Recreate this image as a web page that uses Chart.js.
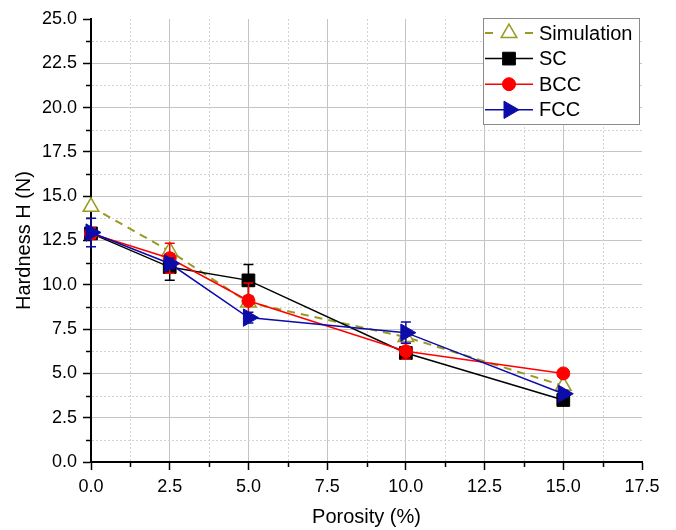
<!DOCTYPE html>
<html>
<head>
<meta charset="utf-8">
<title>Hardness vs porosity</title>
<script src="https://cdn.jsdelivr.net/npm/chart.js@4.4.1/dist/chart.umd.min.js"></script>
<style>
  html, body { margin: 0; padding: 0; background: #fff; }
  canvas { display: block; }
</style>
</head>
<body>
<canvas id="chart" width="676" height="530"></canvas>
<script>
// porosity (%) on x, hardness (N) on y
const porosity = [0, 2.5, 5, 10, 15];
const simulation = [14.4, 11.9, 9.0, 7.05, 4.3];
const sc = [12.9, 11.0, 10.25, 6.15, 3.5];
const bcc = [12.9, 11.5, 9.1, 6.25, 5.0];
const fcc = [12.95, 11.2, 8.15, 7.3, 3.85];

// +/- spread for the measured series
const scErr = [0.2, 0.75, 0.9, 0.25, 0.2];
const bccErr = [0.3, 0.85, 1.0, 0.45, 0.2];
const fccErr = [0.8, 0.3, 0.3, 0.6, 0.2];

const X_MAX = 17.5;
const Y_MAX = 25;
const STEP = 2.5;

const FONT = '"Liberation Sans", Arial, Helvetica, sans-serif';
const OLIVE = '#9a9a22';
const NAVY = '#0c0ca8';

const pts = (ys) => porosity.map((x, i) => ({ x: x, y: ys[i] }));

// dotted minor grid (half steps) plus the short minor ticks
const minorGrid = {
  id: 'minorGrid',
  beforeDatasetsDraw(chart) {
    const { ctx, chartArea: a, scales: { x, y } } = chart;
    ctx.save();
    ctx.lineWidth = 1;
    ctx.strokeStyle = '#d2d2d2';
    ctx.setLineDash([2, 2]);
    ctx.beginPath();
    for (let v = STEP / 2; v < X_MAX; v += STEP) {
      const px = Math.round(x.getPixelForValue(v)) + 0.5;
      ctx.moveTo(px, a.top);
      ctx.lineTo(px, a.bottom - 1);
    }
    for (let v = STEP / 2; v < Y_MAX; v += STEP) {
      const py = Math.round(y.getPixelForValue(v)) + 0.5;
      ctx.moveTo(a.left + 1, py);
      ctx.lineTo(a.right, py);
    }
    ctx.stroke();
    ctx.setLineDash([]);
    ctx.strokeStyle = '#000';
    ctx.lineWidth = 1.5;
    ctx.beginPath();
    for (let v = STEP / 2; v < X_MAX; v += STEP) {
      const px = Math.round(x.getPixelForValue(v)) + 0.5;
      ctx.moveTo(px, a.bottom);
      ctx.lineTo(px, a.bottom + 5);
    }
    for (let v = STEP / 2; v < Y_MAX; v += STEP) {
      const py = Math.round(y.getPixelForValue(v)) + 0.5;
      ctx.moveTo(a.left, py);
      ctx.lineTo(a.left - 5, py);
    }
    ctx.stroke();
    ctx.restore();
  }
};

// vertical error bars with caps, drawn just under each dataset's own line
const errorBars = {
  id: 'errorBars',
  beforeDatasetDraw(chart, args) {
    const ds = chart.data.datasets[args.index];
    if (!ds.errors) return;
    const { ctx, scales: { x, y } } = chart;
    ctx.save();
    ctx.strokeStyle = ds.borderColor;
    ctx.lineWidth = 1.5;
    ctx.beginPath();
    ds.data.forEach((p, i) => {
      const e = ds.errors[i];
      const px = x.getPixelForValue(p.x);
      const top = y.getPixelForValue(p.y + e);
      const bot = y.getPixelForValue(p.y - e);
      ctx.moveTo(px, top);
      ctx.lineTo(px, bot);
      ctx.moveTo(px - 5, top);
      ctx.lineTo(px + 5, top);
      ctx.moveTo(px - 5, bot);
      ctx.lineTo(px + 5, bot);
    });
    ctx.stroke();
    ctx.restore();
  }
};

function drawMarker(ctx, ds, cx, cy) {
  const r = ds.pointRadius;
  ctx.save();
  ctx.fillStyle = ds.pointBackgroundColor;
  ctx.strokeStyle = ds.pointBorderColor || ds.borderColor;
  ctx.lineWidth = ds.pointBorderWidth || 1;
  ctx.beginPath();
  if (ds.pointStyle === 'rect') {
    const s = Math.SQRT1_2 * r;
    ctx.rect(cx - s, cy - s, 2 * s, 2 * s);
  } else if (ds.pointStyle === 'circle') {
    ctx.arc(cx, cy, r, 0, Math.PI * 2);
  } else {
    let rad = (ds.pointRotation || 0) * Math.PI / 180;
    for (let k = 0; k < 3; k++) {
      const px = cx + Math.sin(rad) * r;
      const py = cy - Math.cos(rad) * r;
      if (k === 0) ctx.moveTo(px, py); else ctx.lineTo(px, py);
      rad += 2 * Math.PI / 3;
    }
    ctx.closePath();
  }
  ctx.fill();
  ctx.stroke();
  ctx.restore();
}

// boxed legend in the top right corner of the plot
const boxLegend = {
  id: 'boxLegend',
  afterDraw(chart) {
    const { ctx, chartArea: a } = chart;
    const w = 156, h = 106;
    const left = a.right - w - 3, top = a.top - 1;
    ctx.save();
    ctx.fillStyle = '#fff';
    ctx.fillRect(left, top, w, h);
    ctx.strokeStyle = '#8a8a8a';
    ctx.lineWidth = 1;
    ctx.strokeRect(left + 0.5, top + 0.5, w, h);
    ctx.font = '20px ' + FONT;
    ctx.textBaseline = 'middle';
    ctx.fillStyle = '#000';
    chart.data.datasets.forEach((ds, i) => {
      const cy = top + 15 + i * 25.6;
      const x0 = left + 2, x1 = left + 50, mid = (x0 + x1) / 2;
      ctx.strokeStyle = ds.borderColor;
      ctx.lineWidth = ds.borderWidth;
      ctx.beginPath();
      if (ds.borderDash) {
        ctx.moveTo(x0, cy); ctx.lineTo(x0 + 8, cy);
        ctx.moveTo(x1 - 8, cy); ctx.lineTo(x1, cy);
      } else {
        ctx.moveTo(x0, cy); ctx.lineTo(x1, cy);
      }
      ctx.stroke();
      drawMarker(ctx, ds, mid, cy);
      ctx.fillStyle = '#000';
      ctx.fillText(ds.label, left + 56, cy + 1);
    });
    ctx.restore();
  }
};

const axisGrid = (max) => ({
  color: (c) => (c.tick && c.tick.value === max ? 'rgba(0,0,0,0)' : '#c4c4c4'),
  lineWidth: 1,
  tickColor: '#000',
  tickLength: 8,
  tickWidth: 1.5
});

new Chart(document.getElementById('chart'), {
  type: 'line',
  data: {
    datasets: [
      {
        label: 'Simulation',
        data: pts(simulation),
        borderColor: OLIVE,
        borderWidth: 2,
        borderDash: [8, 6],
        pointStyle: 'triangle',
        pointRadius: 9,
        pointBackgroundColor: '#fff',
        pointBorderColor: OLIVE,
        pointBorderWidth: 1.5,
        order: 3
      },
      {
        label: 'SC',
        data: pts(sc),
        errors: scErr,
        borderColor: '#000',
        borderWidth: 1.5,
        pointStyle: 'rect',
        pointRadius: 9,
        pointBackgroundColor: '#000',
        pointBorderColor: '#000',
        pointBorderWidth: 1,
        order: 2
      },
      {
        label: 'BCC',
        data: pts(bcc),
        errors: bccErr,
        borderColor: '#ff0000',
        borderWidth: 1.5,
        pointStyle: 'circle',
        pointRadius: 6.5,
        pointBackgroundColor: '#ff0000',
        pointBorderColor: '#ff0000',
        pointBorderWidth: 1,
        order: 1
      },
      {
        label: 'FCC',
        data: pts(fcc),
        errors: fccErr,
        borderColor: NAVY,
        borderWidth: 1.5,
        pointStyle: 'triangle',
        pointRotation: 90,
        pointRadius: 10,
        pointBackgroundColor: NAVY,
        pointBorderColor: NAVY,
        pointBorderWidth: 1,
        order: 0
      }
    ]
  },
  options: {
    responsive: false,
    animation: false,
    clip: false,
    layout: { padding: { left: 0, right: 34, top: 19, bottom: 0 } },
    plugins: {
      legend: { display: false },
      tooltip: { enabled: false }
    },
    elements: { line: { tension: 0, fill: false } },
    scales: {
      x: {
        type: 'linear',
        min: 0,
        max: X_MAX,
        ticks: {
          stepSize: STEP,
          color: '#000',
          padding: 6,
          maxRotation: 0,
          font: { family: FONT, size: 18 },
          callback: (v) => v.toFixed(1)
        },
        grid: axisGrid(X_MAX),
        border: { display: true, color: '#000', width: 2 },
        title: {
          display: true,
          text: 'Porosity (%)',
          color: '#000',
          font: { family: FONT, size: 20 },
          padding: { top: 0, bottom: 1 }
        },
        afterFit: (s) => { s.height = 68; }
      },
      y: {
        type: 'linear',
        min: 0,
        max: Y_MAX,
        ticks: {
          stepSize: STEP,
          color: '#000',
          padding: 6,
          font: { family: FONT, size: 18 },
          callback: (v) => v.toFixed(1)
        },
        grid: axisGrid(Y_MAX),
        border: { display: true, color: '#000', width: 2 },
        title: {
          display: true,
          text: 'Hardness H (N)',
          color: '#000',
          font: { family: FONT, size: 20 },
          padding: { top: 12, bottom: 0 }
        },
        afterFit: (s) => { s.width = 91; }
      }
    }
  },
  plugins: [minorGrid, errorBars, boxLegend]
});
</script>
</body>
</html>
